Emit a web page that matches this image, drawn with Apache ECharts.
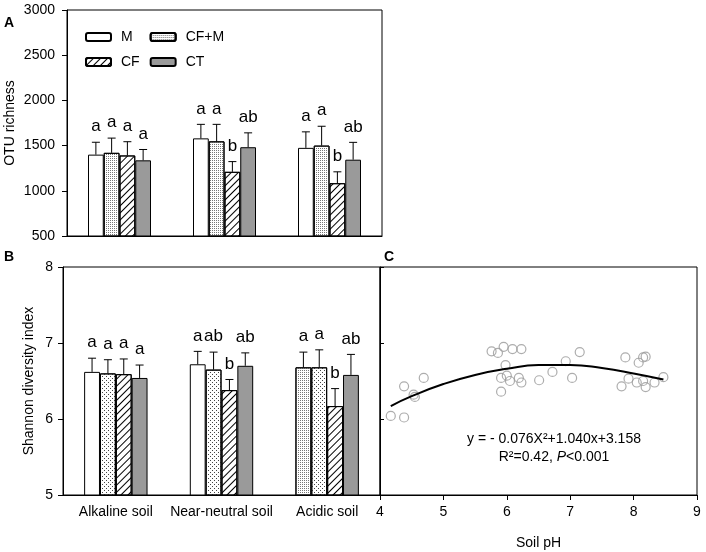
<!DOCTYPE html>
<html>
<head>
<meta charset="utf-8">
<script src="https://cdn.jsdelivr.net/npm/echarts@6/dist/echarts.min.js"></script>
<style>
html, body { margin: 0; padding: 0; background: #fff; }
#chart { width: 706px; height: 552px; }
</style>
</head>
<body>
<div id="chart"></div>
<script>
// categories
var soils = ['Alkaline soil', 'Near-neutral soil', 'Acidic soil'];
var treatments = ['M', 'CF+M', 'CF', 'CT'];

// A: OTU richness (bar tops, error bar tops, letters)
var otuM = [1400, 1580, 1475];
var otuCFM = [1420, 1547, 1500];
var otuCF = [1391, 1210, 1084];
var otuCT = [1337, 1482, 1344];
var otuTopM = [1537, 1735, 1652];
var otuTopCFM = [1583, 1735, 1714];
var otuTopCF = [1543, 1323, 1210];
var otuTopCT = [1457, 1641, 1536];
var otuLetM = ['a', 'a', 'a'];
var otuLetCFM = ['a', 'a', 'a'];
var otuLetCF = ['a', 'b', 'b'];
var otuLetCT = ['a', 'ab', 'ab'];

// B: Shannon diversity index
var shM = [6.62, 6.72, 6.68];
var shCFM = [6.60, 6.65, 6.68];
var shCF = [6.59, 6.38, 6.17];
var shCT = [6.54, 6.70, 6.58];
var shTopM = [6.80, 6.89, 6.88];
var shTopCFM = [6.78, 6.88, 6.91];
var shTopCF = [6.79, 6.52, 6.40];
var shTopCT = [6.71, 6.87, 6.85];
var shLetM = ['a', 'a', 'a'];
var shLetCFM = ['a', 'ab', 'a'];
var shLetCF = ['a', 'b', 'b'];
var shLetCT = ['a', 'ab', 'ab'];

// C: Shannon index vs soil pH
var phX = [4.17, 4.38, 4.38, 4.53, 4.55, 4.69, 5.76, 5.86, 5.95, 6.09, 6.23, 5.98,
  5.91, 6.00, 6.05, 6.19, 6.23, 5.91, 6.51, 6.72, 6.93, 7.15, 7.03, 7.87,
  7.92, 7.81, 8.08, 8.15, 8.19, 8.05, 8.15, 8.19, 8.33, 8.47];
var phShannon = [6.04, 6.02, 6.43, 6.32, 6.29, 6.54, 6.89, 6.87, 6.95, 6.92, 6.92, 6.71,
  6.54, 6.57, 6.50, 6.54, 6.48, 6.36, 6.51, 6.62, 6.76, 6.88, 6.54, 6.81,
  6.53, 6.43, 6.74, 6.81, 6.82, 6.48, 6.50, 6.42, 6.48, 6.55];
// fitted curve
var fitX = [4.17, 4.5, 5, 5.5, 6, 6.5, 7, 7.5, 8, 8.47];
var fitY = [6.17, 6.30, 6.46, 6.58, 6.66, 6.71, 6.71, 6.67, 6.60, 6.52];

var FONT = '"Liberation Sans", Arial, sans-serif';

var denseDots = { symbol: 'rect', symbolSize: 1, dashArrayX: [1, 1], dashArrayY: [1, 1], color: '#777' };
var sparseDots = { symbol: 'rect', symbolSize: 1, dashArrayX: [[1, 3], [0, 2, 1, 1]], dashArrayY: [1, 1], color: '#444' };
var hatch = { symbol: 'rect', symbolSize: 1, dashArrayX: [1, 0], dashArrayY: [1, 4], rotation: -Math.PI / 4, color: '#000' };

function barSeries(name, xi, data, color, decal) {
  return {
    name: name, type: 'bar', xAxisIndex: xi, yAxisIndex: xi,
    data: data, barGap: '0%', barCategoryGap: '40%', silent: true,
    itemStyle: { color: color, borderColor: '#000', borderWidth: 1, decal: decal }
  };
}

function errSeries(k, xi, base, top, letters) {
  return {
    type: 'custom', xAxisIndex: xi, yAxisIndex: xi, z: 5, silent: true,
    data: base.map(function (v, i) { return [i, v, top[i]]; }),
    renderItem: function (params, api) {
      var w = api.size([1, 0])[0] * 0.15;
      var p0 = api.coord([api.value(0), api.value(1)]);
      var p1 = api.coord([api.value(0), api.value(2)]);
      var x = p0[0] + (k - 1.5) * w;
      return {
        type: 'group', children: [
          { type: 'line', shape: { x1: x, y1: p0[1], x2: x, y2: p1[1] }, style: { stroke: '#000', lineWidth: 1 } },
          { type: 'line', shape: { x1: x - 4, y1: p1[1], x2: x + 4, y2: p1[1] }, style: { stroke: '#000', lineWidth: 1 } },
          { type: 'text', x: x, y: p1[1] - 7, style: { text: letters[params.dataIndex], fill: '#000', font: '17px ' + FONT, align: 'center', verticalAlign: 'bottom' } }
        ]
      };
    }
  };
}

var shMData = shM.map(function (v, i) {
  return i === 2 ? { value: v, itemStyle: { decal: denseDots } } : v;
});

var chart = echarts.init(document.getElementById('chart'));
var axisLine = { lineStyle: { color: '#000', width: 1 } };
var labelStyle = { color: '#000', fontSize: 14, fontFamily: FONT };
var legendText = { color: '#000', fontSize: 14, fontFamily: FONT, padding: [0, 0, 0, 5] };
function plain(v) { return String(v); }

chart.setOption({
  animation: false,
  textStyle: { fontFamily: FONT },
  grid: [
    { left: 67, top: 10, width: 315, height: 226, show: true, borderColor: '#000', borderWidth: 1 },
    { left: 63, top: 267, width: 317, height: 228, show: true, borderColor: '#000', borderWidth: 1 },
    { left: 380, top: 267, width: 317, height: 228, show: true, borderColor: '#000', borderWidth: 1 }
  ],
  legend: [
    { data: ['M', 'CF+M'], left: 80, top: 25, itemWidth: 25, itemHeight: 8, itemGap: 17, selectedMode: false, textStyle: legendText },
    { data: ['CF', 'CT'], left: 80, top: 50, itemWidth: 25, itemHeight: 8, itemGap: 10, selectedMode: false, textStyle: legendText }
  ],
  xAxis: [
    { type: 'category', gridIndex: 0, data: soils, axisLine: axisLine,
      axisTick: { alignWithLabel: true, length: 4, lineStyle: { color: '#000' } }, axisLabel: { show: false } },
    { type: 'category', gridIndex: 1, data: soils, axisLine: axisLine,
      axisTick: { alignWithLabel: true, length: 4, lineStyle: { color: '#000' } },
      axisLabel: Object.assign({ margin: 10, interval: 0 }, labelStyle) },
    { type: 'value', gridIndex: 2, min: 4, max: 9, interval: 1, axisLine: axisLine,
      axisTick: { length: 5, lineStyle: { color: '#000' } }, splitLine: { show: false },
      axisLabel: Object.assign({ margin: 10, formatter: plain }, labelStyle),
      name: 'Soil pH', nameLocation: 'middle', nameGap: 41, nameTextStyle: labelStyle }
  ],
  yAxis: [
    { type: 'value', gridIndex: 0, min: 500, max: 3000, interval: 500, axisLine: Object.assign({ show: true }, axisLine),
      axisTick: { show: true, length: 5, lineStyle: { color: '#000' } }, splitLine: { show: false },
      axisLabel: Object.assign({ margin: 12, formatter: plain }, labelStyle),
      name: 'OTU richness', nameLocation: 'middle', nameGap: 50, nameTextStyle: labelStyle },
    { type: 'value', gridIndex: 1, min: 5, max: 8, interval: 1, axisLine: Object.assign({ show: true }, axisLine),
      axisTick: { show: true, length: 5, lineStyle: { color: '#000' } }, splitLine: { show: false },
      axisLabel: Object.assign({ margin: 10, formatter: plain }, labelStyle),
      name: 'Shannon diversity index', nameLocation: 'middle', nameGap: 27, nameTextStyle: labelStyle },
    { type: 'value', gridIndex: 2, min: 5, max: 8, interval: 1, axisLine: Object.assign({ show: true }, axisLine),
      axisTick: { show: true, inside: true, length: 4, lineStyle: { color: '#000' } }, splitLine: { show: false },
      axisLabel: { show: false } }
  ],
  graphic: [
    { type: 'text', x: 4, y: 16, style: { text: 'A', font: 'bold 14px ' + FONT, fill: '#000' } },
    { type: 'text', x: 4, y: 250, style: { text: 'B', font: 'bold 14px ' + FONT, fill: '#000' } },
    { type: 'text', x: 384, y: 250, style: { text: 'C', font: 'bold 14px ' + FONT, fill: '#000' } },
    { type: 'text', x: 554, y: 439, style: { text: 'y = - 0.076X\u00b2+1.040x+3.158', font: '14px ' + FONT, fill: '#000',
      align: 'center', verticalAlign: 'middle', textAlign: 'center', textVerticalAlign: 'middle' } },
    { type: 'text', x: 554, y: 457, style: { text: 'R\u00b2=0.42, {i|P}<0.001', font: '14px ' + FONT, fill: '#000',
      align: 'center', verticalAlign: 'middle', textAlign: 'center', textVerticalAlign: 'middle',
      rich: { i: { fontStyle: 'italic', fontSize: 14, fontFamily: FONT, fill: '#000' } } } }
  ],
  series: [
    barSeries('M', 0, otuM, '#fff', null),
    barSeries('CF+M', 0, otuCFM, '#fff', denseDots),
    barSeries('CF', 0, otuCF, '#fff', hatch),
    barSeries('CT', 0, otuCT, '#9a9a9a', null),
    errSeries(0, 0, otuM, otuTopM, otuLetM),
    errSeries(1, 0, otuCFM, otuTopCFM, otuLetCFM),
    errSeries(2, 0, otuCF, otuTopCF, otuLetCF),
    errSeries(3, 0, otuCT, otuTopCT, otuLetCT),
    barSeries('M', 1, shMData, '#fff', null),
    barSeries('CF+M', 1, shCFM, '#fff', sparseDots),
    barSeries('CF', 1, shCF, '#fff', hatch),
    barSeries('CT', 1, shCT, '#9a9a9a', null),
    errSeries(0, 1, shM, shTopM, shLetM),
    errSeries(1, 1, shCFM, shTopCFM, shLetCFM),
    errSeries(2, 1, shCF, shTopCF, shLetCF),
    errSeries(3, 1, shCT, shTopCT, shLetCT),
    { type: 'scatter', xAxisIndex: 2, yAxisIndex: 2, silent: true, symbol: 'circle', symbolSize: 9,
      data: phX.map(function (x, i) { return [x, phShannon[i]]; }),
      itemStyle: { color: 'rgba(255,255,255,0)', borderColor: '#999', borderWidth: 1.2 } },
    { type: 'line', xAxisIndex: 2, yAxisIndex: 2, silent: true, smooth: true, showSymbol: false, z: 3,
      data: fitX.map(function (x, i) { return [x, fitY[i]]; }),
      lineStyle: { color: '#000', width: 2 } }
  ]
});
</script>
</body>
</html>
